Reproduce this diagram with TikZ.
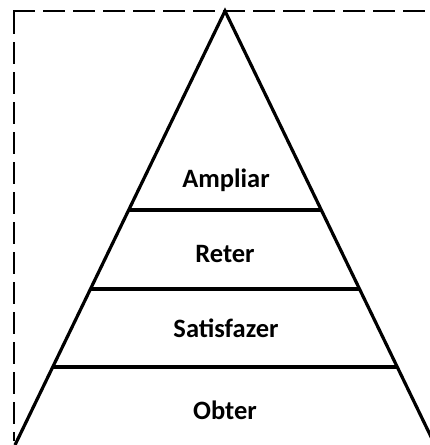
\documentclass[tikz,border=0pt]{standalone}
\usepackage{fontspec}
\setmainfont{Carlito}
\usetikzlibrary{calc}
\tikzset{
	tier/.style={font=\bfseries\fontsize{26.5}{30}\selectfont, inner sep=0pt},
	slope/.style={line width=3.2pt, black},
	dashbit/.style={line width=2.8pt, black}
}

\begin{document}
\begin{tikzpicture}[x=1pt, y=-1pt]
	\useasboundingbox (0,0) rectangle (430,445);
	\clip (0,0) rectangle (430,445);
	% outer dashed frame, dash by dash
	\foreach \x in {13,43,...,433}
		\draw[dashbit] (\x,11) -- ++(22,0);
	\foreach \y in {12,42,...,402}
		\draw[dashbit] (14,\y) -- ++(0,22);
	\draw[dashbit] (14,432) -- (14,441);
	% pyramid
	\coordinate (top) at (225,11);
	\coordinate (bl) at (15,445);
	\coordinate (br) at (435,445);
	\draw[slope, line join=miter] (bl) -- (top) -- (br);
	\foreach \t in {0.4585,0.6406,0.8203} {
		\draw[slope] ($(top)!\t!(bl)$) -- ($(top)!\t!(br)$);}
	% levels
	\node[tier] (ampliar) at (226,180) {Ampliar};
	\node[tier] (reter) at (225,254) {Reter};
	\node[tier] (satisfazer) at (226,328) {Satisfazer};
	\node[tier] (obter) at (225,410) {Obter};
\end{tikzpicture}
\end{document}
